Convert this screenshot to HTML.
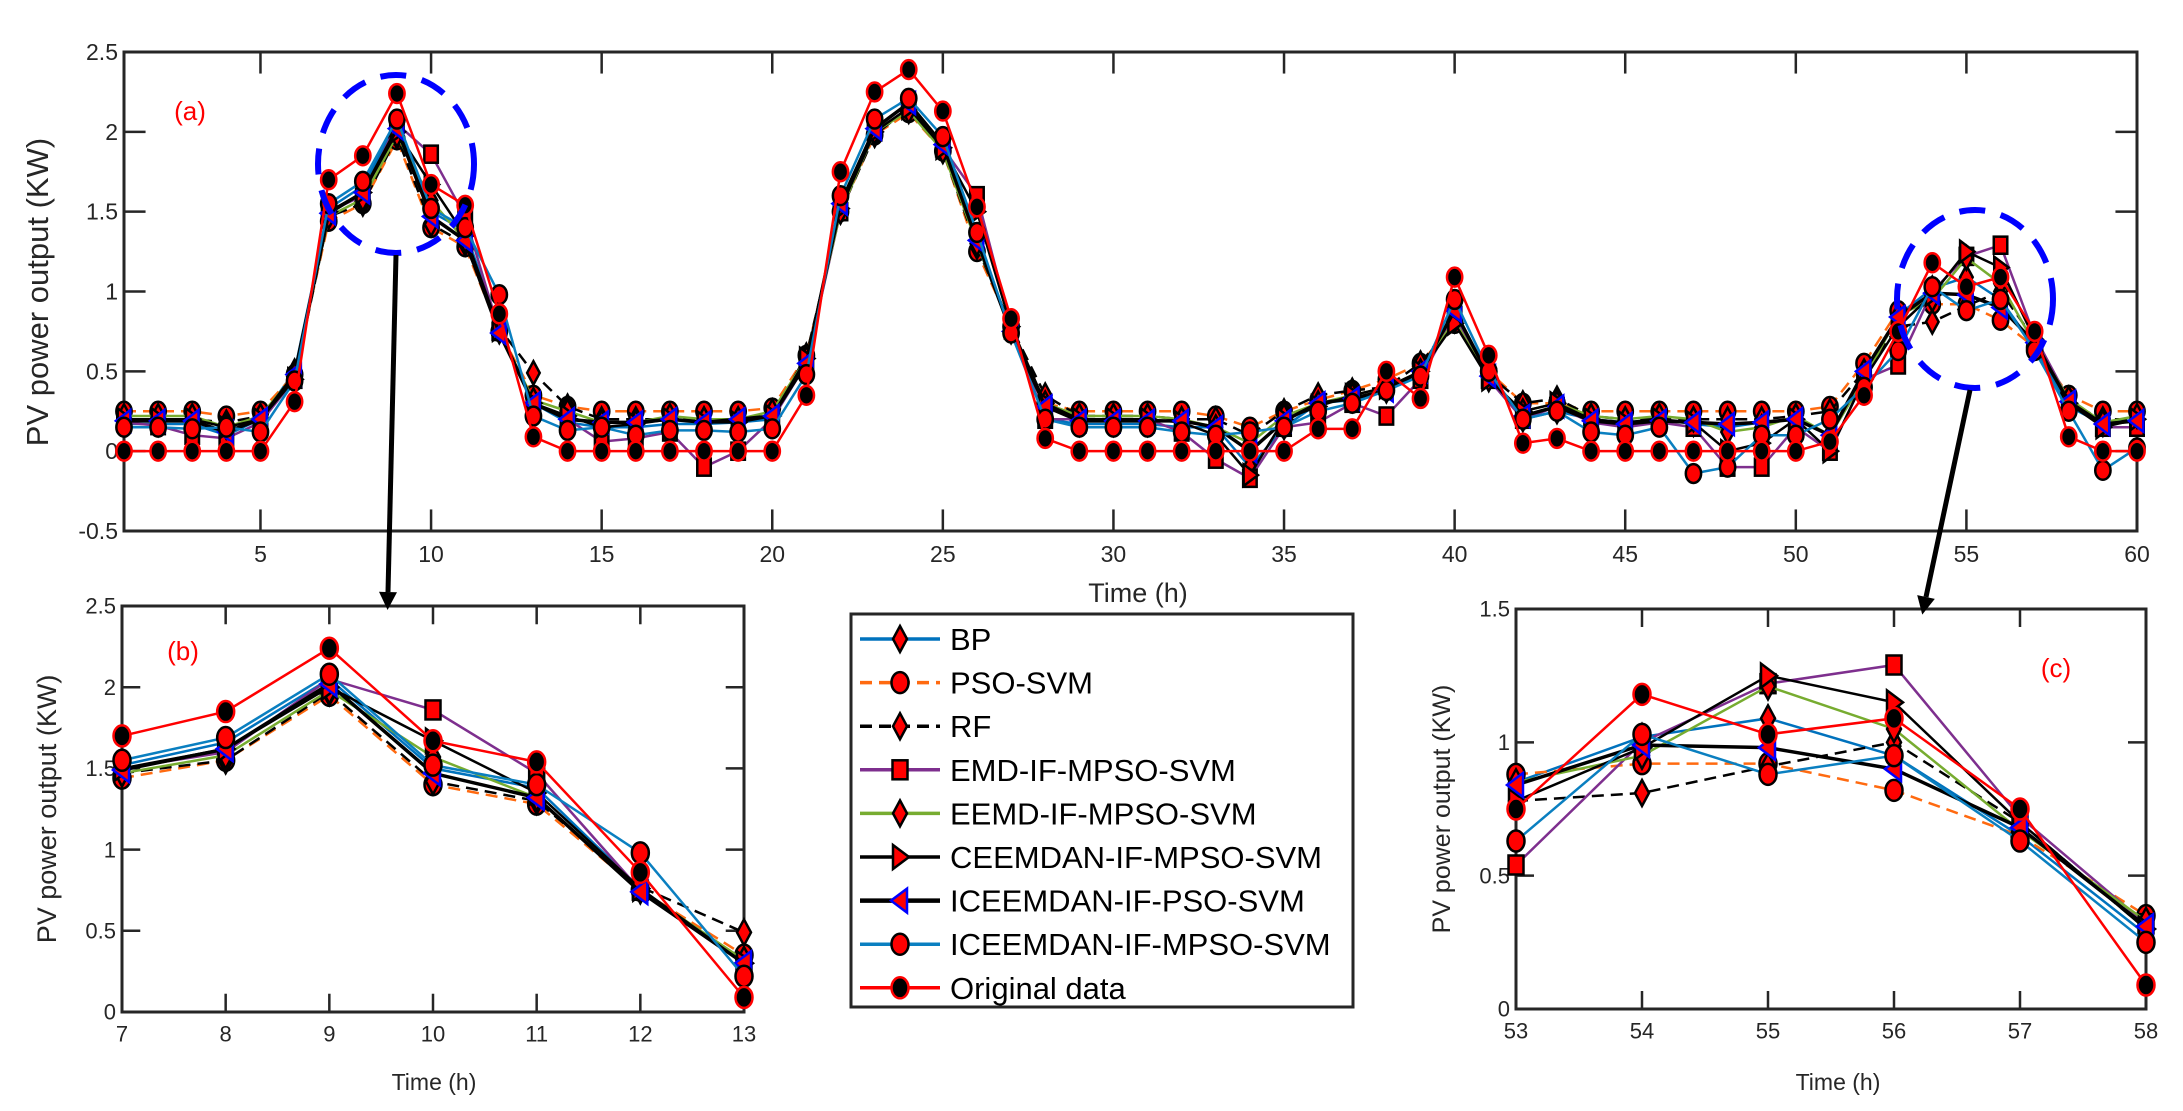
<!DOCTYPE html>
<html><head><meta charset="utf-8">
<style>
html,body{margin:0;padding:0;background:#fff;}
svg{display:block;font-family:"Liberation Sans",sans-serif;}
</style></head>
<body>
<svg id="chart" width="2183" height="1111" viewBox="0 0 2183 1111" xmlns="http://www.w3.org/2000/svg"></svg>
<script>
const hours = Array.from({length:60},(_,i)=>i+1);
const seriesNames = ["BP","PSO-SVM","RF","EMD-IF-MPSO-SVM","EEMD-IF-MPSO-SVM","CEEMDAN-IF-MPSO-SVM","ICEEMDAN-IF-PSO-SVM","ICEEMDAN-IF-MPSO-SVM","Original data"];
const bpValues = [0.17,0.17,0.17,0.1,0.2,0.5,1.52,1.66,2.05,1.50,1.38,0.76,0.3,0.18,0.15,0.15,0.17,0.17,0.18,0.2,0.55,1.55,2.02,2.18,1.9,1.3,0.75,0.2,0.17,0.17,0.17,0.15,0.15,-0.1,0.15,0.3,0.32,0.38,0.5,0.88,0.48,0.2,0.25,0.2,0.18,0.2,0.17,0.15,0.18,0.2,0.1,0.45,0.85,1.02,1.09,0.95,0.65,0.28,0.17,0.2];
const psoSvmValues = [0.25,0.25,0.25,0.22,0.25,0.48,1.44,1.55,1.95,1.40,1.28,0.75,0.35,0.28,0.25,0.25,0.25,0.25,0.25,0.27,0.6,1.5,1.98,2.12,1.88,1.25,0.78,0.3,0.25,0.25,0.25,0.25,0.22,0.15,0.25,0.32,0.38,0.45,0.55,0.8,0.5,0.3,0.3,0.25,0.25,0.25,0.25,0.25,0.25,0.25,0.28,0.55,0.88,0.92,0.92,0.82,0.65,0.35,0.25,0.25];
const rfValues = [0.2,0.2,0.2,0.18,0.22,0.45,1.47,1.55,1.97,1.42,1.30,0.77,0.49,0.28,0.2,0.2,0.2,0.2,0.2,0.22,0.6,1.5,1.98,2.15,1.88,1.28,0.78,0.35,0.22,0.22,0.22,0.2,0.2,0.1,0.25,0.35,0.38,0.4,0.55,0.82,0.48,0.3,0.33,0.22,0.2,0.2,0.2,0.2,0.2,0.22,0.25,0.5,0.78,0.81,0.91,1.0,0.7,0.3,0.2,0.2];
const emdValues = [0.18,0.16,0.1,0.08,0.18,0.45,1.5,1.6,2.05,1.86,1.47,0.75,0.3,0.2,0.06,0.08,0.12,-0.1,0.0,0.2,0.55,1.5,2.0,2.15,1.9,1.6,0.78,0.2,0.2,0.2,0.2,0.12,-0.05,-0.17,0.15,0.18,0.3,0.22,0.45,0.85,0.45,0.2,0.28,0.18,0.15,0.18,0.15,-0.1,-0.1,0.15,0.0,0.45,0.54,1.0,1.22,1.29,0.72,0.32,0.15,0.15];
const eemdValues = [0.22,0.22,0.22,0.15,0.22,0.48,1.47,1.58,1.98,1.57,1.32,0.75,0.32,0.25,0.18,0.18,0.22,0.2,0.2,0.25,0.58,1.5,2.0,2.13,1.88,1.3,0.76,0.3,0.22,0.22,0.22,0.2,0.15,0.05,0.22,0.3,0.35,0.4,0.5,0.82,0.45,0.25,0.3,0.22,0.2,0.22,0.2,0.12,0.15,0.22,0.1,0.45,0.85,0.95,1.21,1.05,0.67,0.33,0.18,0.22];
const ceemdanValues = [0.2,0.2,0.2,0.15,0.2,0.45,1.5,1.62,2.0,1.67,1.35,0.76,0.3,0.22,0.15,0.17,0.2,0.18,0.18,0.22,0.58,1.52,2.0,2.15,1.9,1.5,0.78,0.3,0.2,0.2,0.2,0.18,0.1,-0.15,0.2,0.28,0.35,0.4,0.5,0.8,0.45,0.25,0.3,0.2,0.18,0.2,0.18,0.0,0.05,0.2,0.0,0.45,0.78,0.98,1.25,1.15,0.7,0.3,0.15,0.2];
const icePsoValues = [0.19,0.19,0.19,0.12,0.2,0.48,1.49,1.62,2.02,1.47,1.32,0.74,0.3,0.2,0.18,0.18,0.2,0.18,0.2,0.22,0.55,1.55,2.02,2.18,1.92,1.32,0.75,0.28,0.19,0.19,0.19,0.19,0.15,0.0,0.19,0.3,0.33,0.38,0.5,0.88,0.47,0.22,0.28,0.19,0.17,0.19,0.18,0.17,0.18,0.2,0.1,0.5,0.84,0.99,0.98,0.90,0.68,0.31,0.17,0.19];
const iceMpsoValues = [0.15,0.15,0.14,0.15,0.12,0.44,1.55,1.69,2.08,1.52,1.40,0.98,0.22,0.13,0.15,0.1,0.13,0.13,0.12,0.14,0.48,1.6,2.08,2.21,1.97,1.37,0.74,0.2,0.15,0.15,0.15,0.12,0.1,0.12,0.15,0.25,0.3,0.38,0.47,0.95,0.5,0.2,0.25,0.12,0.1,0.15,-0.14,-0.1,0.1,0.1,0.2,0.4,0.63,1.03,0.88,0.95,0.63,0.25,-0.12,0.02];
const originalValues = [0,0,0,0,0,0.31,1.70,1.85,2.24,1.67,1.54,0.86,0.09,0,0,0,0,0,0,0,0.35,1.75,2.25,2.39,2.13,1.53,0.83,0.08,0,0,0,0,0,0,0,0.14,0.14,0.5,0.33,1.09,0.6,0.05,0.08,0,0,0,0,0,0,0,0.06,0.35,0.75,1.18,1.03,1.09,0.75,0.09,0,0];
const mainXTicks = [5,10,15,20,25,30,35,40,45,50,55,60];
const mainYTicks = [-0.5,0,0.5,1,1.5,2,2.5];
const bXTicks = [7,8,9,10,11,12,13];
const bYTicks = [0,0.5,1,1.5,2,2.5];
const cXTicks = [53,54,55,56,57,58];
const cYTicks = [0,0.5,1,1.5];

const allValues = [bpValues,psoSvmValues,rfValues,emdValues,eemdValues,ceemdanValues,icePsoValues,iceMpsoValues,originalValues];
const styles = [
 {c:"#0072bd",w:2.5,d:"",m:"diamond",fill:"#ff0000",edge:"#000"},
 {c:"#ff6a10",w:2.5,d:"12,7",m:"circle",fill:"#ff0000",edge:"#000"},
 {c:"#000",w:2.5,d:"12,7",m:"diamond",fill:"#ff0000",edge:"#000"},
 {c:"#7e2f8e",w:2.5,d:"",m:"square",fill:"#ff0000",edge:"#000"},
 {c:"#77ac30",w:2.5,d:"",m:"diamond",fill:"#ff0000",edge:"#000"},
 {c:"#000",w:2.5,d:"",m:"tright",fill:"#ff0000",edge:"#000"},
 {c:"#000",w:3.5,d:"",m:"tleft",fill:"#ff0000",edge:"#0000ff"},
 {c:"#0a7fc0",w:2.5,d:"",m:"circle",fill:"#ff0000",edge:"#000"},
 {c:"#ff0000",w:2.5,d:"",m:"circle",fill:"#000",edge:"#ff0000"}
];
const NS="http://www.w3.org/2000/svg";
const svg=document.getElementById('chart');
function mk(tag,attrs,parent){const e=document.createElementNS(NS,tag);for(const k in attrs)e.setAttribute(k,attrs[k]);(parent||svg).appendChild(e);return e;}
function marker(g,type,x,y,s,st){
  let e;
  if(type==="circle"){e=mk('ellipse',{cx:x,cy:y,rx:s*0.85,ry:s*1.05},g);}
  else if(type==="diamond"){e=mk('polygon',{points:`${x},${y-s*1.3} ${x+s*0.7},${y} ${x},${y+s*1.3} ${x-s*0.7},${y}`},g);}
  else if(type==="square"){e=mk('rect',{x:x-s*0.75,y:y-s*0.95,width:s*1.5,height:s*1.9},g);}
  else if(type==="tright"){e=mk('polygon',{points:`${x-s*0.7},${y-s*1.2} ${x+s*0.9},${y} ${x-s*0.7},${y+s*1.2}`},g);}
  else {e=mk('polygon',{points:`${x+s*0.7},${y-s*1.2} ${x-s*0.9},${y} ${x+s*0.7},${y+s*1.2}`},g);}
  e.setAttribute('fill',st.fill);e.setAttribute('stroke',st.edge);e.setAttribute('stroke-width',2.5);
  
  
  return e;
}
function panel(name,L,R,T,B,xmin,xmax,ymin,ymax,xt,yt,i0,i1,fs,ms){
  const g=mk('g',{});
  
  
  const sx=v=>L+(v-xmin)/(xmax-xmin)*(R-L);
  const sy=v=>B-(v-ymin)/(ymax-ymin)*(B-T);
  const frame=mk('rect',{x:L,y:T,width:R-L,height:B-T,fill:'#fff',stroke:'#262626','stroke-width':3},g);
  
  
  const tl=(B-T)*0.045;
  xt.forEach(v=>{
    const x=sx(v);
    mk('line',{x1:x,y1:B,x2:x,y2:B-tl,stroke:'#262626','stroke-width':2.5},g);
    mk('line',{x1:x,y1:T,x2:x,y2:T+tl,stroke:'#262626','stroke-width':2.5},g);
    const t=mk('text',{x:x,y:B+fs*1.35,'font-size':fs,'text-anchor':'middle',fill:'#262626'},g);
    t.textContent=v;
    
    
  });
  yt.forEach(v=>{
    const y=sy(v);
    mk('line',{x1:L,y1:y,x2:L+tl,y2:y,stroke:'#262626','stroke-width':2.5},g);
    mk('line',{x1:R,y1:y,x2:R-tl,y2:y,stroke:'#262626','stroke-width':2.5},g);
    const t=mk('text',{x:L-6,y:y+fs*0.35,'font-size':fs,'text-anchor':'end',fill:'#262626'},g);
    t.textContent=v;
    
    
  });
  allValues.forEach((vals,si)=>{
    const st=styles[si];
    const sg=mk('g',{},g);
    
    
    const pts=[];
    for(let i=i0;i<=i1;i++)pts.push(sx(hours[i])+','+sy(vals[i]));
    const pl=mk('polyline',{points:pts.join(' '),fill:'none',stroke:st.c,'stroke-width':st.w,'stroke-dasharray':st.d},sg);
    
    
    for(let i=i0;i<=i1;i++)marker(sg,st.m,sx(hours[i]),sy(vals[i]),ms,st);
  });
  return {sx,sy};
}
panel('main-chart',124,2137,52,531,1,60,-0.5,2.5,mainXTicks,mainYTicks,0,59,23,9);
panel('zoom-chart-b',122,744,606,1012,7,13,0,2.5,bXTicks,bYTicks,6,12,22,10);
panel('zoom-chart-c',1516,2146,609,1009,53,58,0,1.5,cXTicks,cYTicks,52,57,22,10);

function txt(s,x,y,fs,col,name,rot){
  const t=mk('text',{x:x,y:y,'font-size':fs,fill:col,'text-anchor':'middle'});
  if(rot)t.setAttribute('transform',`rotate(-90 ${x} ${y})`);
  t.textContent=s;
  
  
}
txt('PV power output (KW)',48,292,31,'#262626','main-y-axis-title',true);
txt('Time (h)',1138,602,27,'#262626','main-x-axis-title');
txt('(a)',190,120,26,'#ff0000','panel-label-a');
txt('PV power output (KW)',56,809,27,'#262626','b-y-axis-title',true);
txt('Time (h)',434,1090,23,'#262626','b-x-axis-title');
txt('(b)',183,660,26,'#ff0000','panel-label-b');
txt('PV power output (KW)',1450,809,25,'#262626','c-y-axis-title',true);
txt('Time (h)',1838,1090,23,'#262626','c-x-axis-title');
txt('(c)',2056,677,26,'#ff0000','panel-label-c');

[[396,164],[1975,299]].forEach((c,i)=>{
  const e=mk('ellipse',{cx:c[0],cy:c[1],rx:78,ry:89,fill:'none',stroke:'#0000ff','stroke-width':6,'stroke-dasharray':'26,16'});
  
  
});
[[396,255,388,592],[1970,390,1926,597]].forEach(a=>{
  const l=mk('line',{x1:a[0],y1:a[1],x2:a[2],y2:a[3],stroke:'#000','stroke-width':5});
  
  
  const ang=Math.atan2(a[3]-a[1],a[2]-a[0]);
  const tx=a[2]+Math.cos(ang)*18,ty=a[3]+Math.sin(ang)*18;
  const p1=[a[2]+Math.cos(ang+Math.PI/2)*9,a[3]+Math.sin(ang+Math.PI/2)*9];
  const p2=[a[2]-Math.cos(ang+Math.PI/2)*9,a[3]-Math.sin(ang+Math.PI/2)*9];
  const h=mk('polygon',{points:`${tx},${ty} ${p1} ${p2}`,fill:'#000'});
  
  
});

const lg=mk('g',{});


mk('rect',{x:851,y:614,width:502,height:393,fill:'#fff',stroke:'#262626','stroke-width':3},lg);
seriesNames.forEach((n,i)=>{
  const y=639+i*43.6;const st=styles[i];
  const eg=mk('g',{},lg);
  
  
  mk('line',{x1:860,y1:y,x2:940,y2:y,stroke:st.c,'stroke-width':st.w+1,'stroke-dasharray':st.d},eg);
  marker(eg,st.m,900,y,10,st);
  const t=mk('text',{x:950,y:y+11,'font-size':31,fill:'#000'},eg);
  t.textContent=n;
  
  
});
</script>
</body></html>
